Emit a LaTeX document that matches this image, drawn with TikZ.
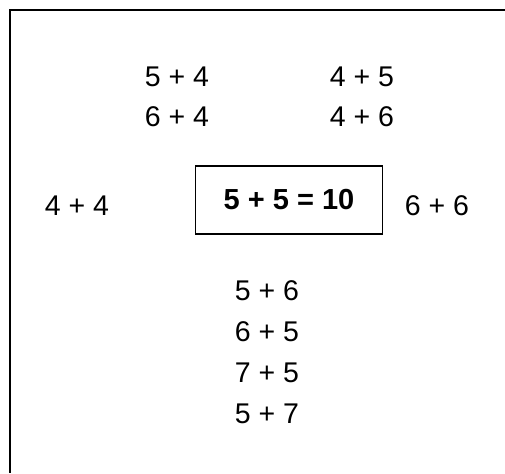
\documentclass[tikz,border=0pt]{standalone}
\usepackage{fontspec}
\setmainfont{Liberation Sans}
\begin{document}
\begin{tikzpicture}[x=1pt,y=-1pt,
  sum/.style={inner sep=0pt,font=\fontsize{28.5}{32}\selectfont},
  mainbox/.style={draw,line width=1.6pt,minimum width=187pt,minimum height=68pt,font=\fontsize{29}{32}\selectfont\bfseries}]
\useasboundingbox (0,0) rectangle (505,473);
\coordinate (tl) at (10,10);
\coordinate (tr) at (505,10);
\coordinate (bl) at (10,473);
\draw[line width=2.6pt] (tr) -- (tl) -- (bl);
\node[sum] (a1) at (177,77) {5 + 4};
\node[sum] (a2) at (362,77) {4 + 5};
\node[sum] (b1) at (177,117) {6 + 4};
\node[sum] (b2) at (362,117) {4 + 6};
\node[sum] (l) at (77,206) {4 + 4};
\node[mainbox] (m) at (289,200) {5 + 5 = 10};
\node[sum] (r) at (437,206) {6 + 6};
\node[sum] (c1) at (267,291) {5 + 6};
\node[sum] (c2) at (267,332) {6 + 5};
\node[sum] (c3) at (267,373) {7 + 5};
\node[sum] (c4) at (267,414) {5 + 7};
\end{tikzpicture}
\end{document}
